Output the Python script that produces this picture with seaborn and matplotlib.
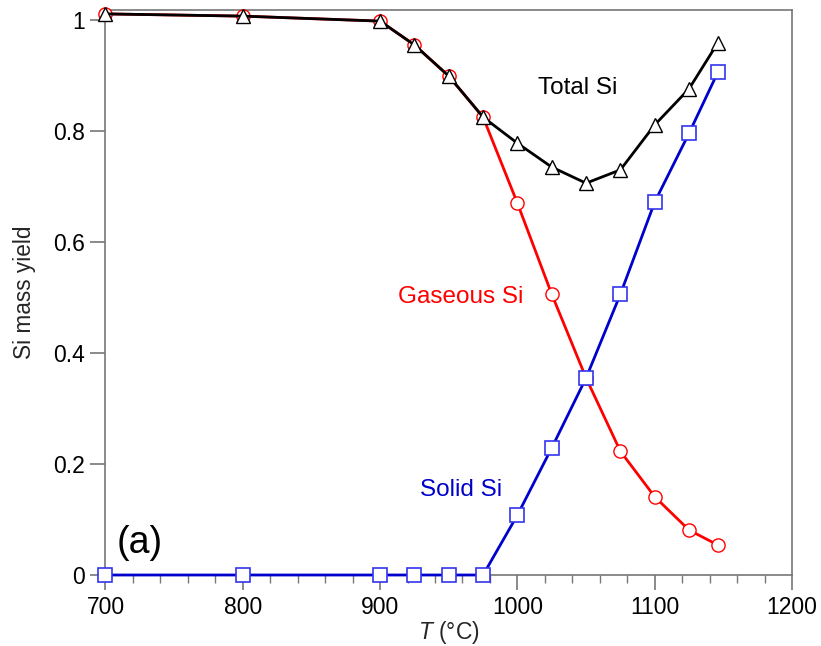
import numpy as np
import pandas as pd
import matplotlib
matplotlib.use('Agg')
import matplotlib.pyplot as plt
import seaborn as sns
from matplotlib.ticker import MultipleLocator, FormatStrFormatter

# Temperatures (°C) and Si mass yields
temperature = [700, 800, 900, 925, 950, 975, 1000, 1025, 1050, 1075, 1100, 1125, 1146]
total_si = [1.011, 1.007, 0.998, 0.955, 0.899, 0.825, 0.778, 0.735, 0.706, 0.730, 0.811, 0.876, 0.959]
gaseous_si = [1.011, 1.007, 0.998, 0.955, 0.899, 0.825, 0.670, 0.506, 0.355, 0.223, 0.141, 0.081, 0.054]
solid_si = [0.0, 0.0, 0.0, 0.0, 0.0, 0.0, 0.108, 0.229, 0.355, 0.506, 0.672, 0.796, 0.906]

df = pd.DataFrame({'T': temperature, 'total': total_si, 'gas': gaseous_si, 'solid': solid_si})

sns.set_style('ticks')
plt.rcParams['font.family'] = ['Liberation Sans', 'DejaVu Sans']
plt.rcParams['mathtext.fontset'] = 'custom'
plt.rcParams['mathtext.it'] = 'Liberation Sans:italic'
plt.rcParams['mathtext.rm'] = 'Liberation Sans'

fig = plt.figure(figsize=(8.21, 6.46), dpi=100)
ax = fig.add_axes([0.1285, 0.1099, 0.8362, 0.8746])

# Gaseous Si - red circles
sns.lineplot(data=df, x='T', y='gas', ax=ax, color='#ff0000', linewidth=2,
             marker='o', markersize=9.5, markerfacecolor='white',
             markeredgecolor='#ff0000', markeredgewidth=1, clip_on=False, zorder=3)
# Solid Si - blue squares
sns.lineplot(data=df, x='T', y='solid', ax=ax, color='#0000cc', linewidth=2,
             marker='s', markersize=10, markerfacecolor='white',
             markeredgecolor='#3333ee', markeredgewidth=1.2, clip_on=False, zorder=4)
# Total Si - black triangles
sns.lineplot(data=df, x='T', y='total', ax=ax, color='black', linewidth=2,
             marker='^', markersize=10.5, markerfacecolor='white',
             markeredgecolor='black', markeredgewidth=1, clip_on=False, zorder=5)

ax.set_xlim(700, 1200)
ax.set_ylim(0, 1.018)
ax.xaxis.set_major_locator(MultipleLocator(100))
ax.xaxis.set_minor_locator(MultipleLocator(20))
ax.yaxis.set_major_locator(MultipleLocator(0.2))
ax.yaxis.set_major_formatter(matplotlib.ticker.FuncFormatter(lambda v, p: f'{v:g}'))

for s in ax.spines.values():
    s.set_color('#777777')
    s.set_linewidth(1.2)
ax.tick_params(axis='both', which='major', length=11, width=1.2, color='#777777',
               labelsize=16.5, labelcolor='black', direction='out', pad=4)
ax.tick_params(axis='x', which='minor', length=6, width=1, color='#777777', direction='out')

ax.set_xlabel('$T$ (°C)', fontsize=16.5, labelpad=0)
ax.set_ylabel('Si mass yield', fontsize=16.3, labelpad=12)

ax.text(1044, 0.877, 'Total Si', color='black', fontsize=17.5, ha='center', va='center')
ax.text(959, 0.501, 'Gaseous Si', color='#ff0000', fontsize=17.5, ha='center', va='center')
ax.text(959, 0.153, 'Solid Si', color='#0000cc', fontsize=17.5, ha='center', va='center')
ax.text(708, 0.058, '(a)', color='black', fontsize=27, ha='left', va='center')

fig.savefig('out.png', dpi=100)
